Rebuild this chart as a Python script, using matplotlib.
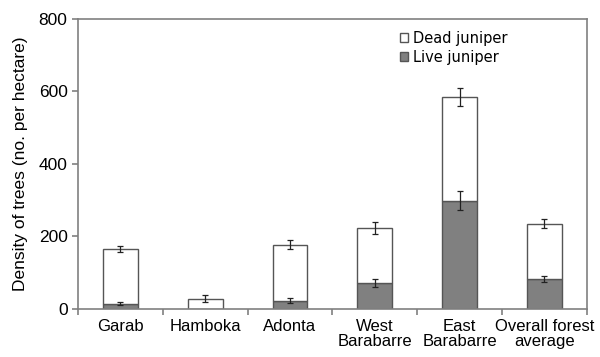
import numpy as np
import matplotlib
matplotlib.use('Agg')
import matplotlib.pyplot as plt

# values
sites = ['Garab', 'Hamboka', 'Adonta', 'West\nBarabarre', 'East\nBarabarre', 'Overall forest\naverage']
live = [15, 0, 23, 72, 299, 83]
live_err = [3, 0, 6, 10, 27, 9]
total = [166, 28, 177, 223, 585, 235]
total_err = [9, 10, 12, 17, 25, 13]
dead = [t - l for t, l in zip(total, live)]

plt.rcParams['font.family'] = ['Liberation Sans', 'DejaVu Sans']

fig = plt.figure(figsize=(6, 3.57), dpi=100)
ax = fig.add_axes([0.13, 0.1345, 0.848, 0.8125])

x = np.arange(len(sites))
w = 0.41
edge = '#555555'
ax.bar(x, live, w, color='#808080', edgecolor=edge, lw=1.0, label='Live juniper', zorder=2)
ax.bar(x, dead, w, bottom=live, color='white', edgecolor=edge, lw=1.0, label='Dead juniper', zorder=2)

err_kw = dict(fmt='none', ecolor='#222222', elinewidth=0.9, capsize=2, capthick=0.9, zorder=3)
mask = np.array(live_err) > 0
ax.errorbar(x[mask], np.array(live)[mask], yerr=np.array(live_err)[mask], **err_kw)
ax.errorbar(x, total, yerr=total_err, **err_kw)

ax.set_xlim(-0.5, len(sites) - 0.5)
ax.set_ylim(0, 800)
ax.set_yticks([0, 200, 400, 600, 800])
ax.set_xticks(np.arange(-0.5, len(sites), 1.0))
ax.set_xticklabels([])
ax.set_xticks(x, minor=True)
ax.set_xticklabels(sites, minor=True, fontsize=12, linespacing=1.05)
ax.tick_params(axis='x', which='minor', length=0, pad=7)
ax.tick_params(axis='x', which='major', length=4, direction='out', color='#808080', width=1.2)
ax.tick_params(axis='y', length=4, direction='out', color='#808080', width=1.2, labelsize=12.5)
for s in ax.spines.values():
    s.set_color('#808080')
    s.set_linewidth(1.2)

ax.set_ylabel('Density of trees (no. per hectare)', fontsize=12.5, labelpad=8)

handles, labels = ax.get_legend_handles_labels()
ax.legend(handles[::-1], labels[::-1], loc='upper left', bbox_to_anchor=(0.61, 1.0),
          frameon=False, handlelength=0.55, handleheight=0.55,
          handletextpad=0.35, labelspacing=0.3, borderpad=0.3,
          prop={'family': 'DejaVu Sans', 'size': 10.5})

fig.savefig('out.png', dpi=100)
